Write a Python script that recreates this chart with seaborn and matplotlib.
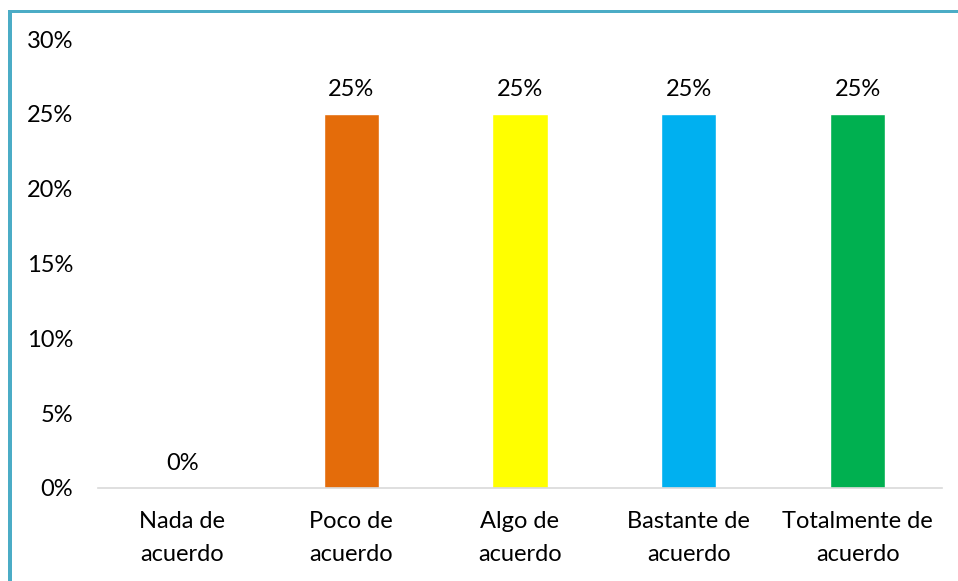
import matplotlib
matplotlib.use("Agg")
import matplotlib.pyplot as plt
import seaborn as sns
import pandas as pd
from matplotlib.patches import Rectangle

categories = ["Nada de\nacuerdo", "Poco de\nacuerdo", "Algo de\nacuerdo",
              "Bastante de\nacuerdo", "Totalmente de\nacuerdo"]
values = [0.0, 0.25, 0.25, 0.25, 0.25]
colors = ["#4F81BD", "#E46C0A", "#FFFF00", "#00B0F0", "#00B050"]
yticks = [0, 0.05, 0.10, 0.15, 0.20, 0.25, 0.30]
ytick_labels = ["0%", "5%", "10%", "15%", "20%", "25%", "30%"]

sns.set_theme(style="white")
plt.rcParams["font.family"] = ["Lato", "DejaVu Sans"]

fig = plt.figure(figsize=(9.58, 5.81), dpi=100)
ax = fig.add_axes([98/958, 1-488/581, (942-98)/958, (488-39)/581])

df = pd.DataFrame({"cat": categories, "val": values})
sns.barplot(data=df, x="cat", y="val", hue="cat", palette=colors,
            legend=False, width=0.326, ax=ax, saturation=1)

fs = 17
ax.set_ylim(0, 0.30)
ax.set_yticks(yticks)
ax.set_yticklabels(ytick_labels)
ax.set_xlabel("")
ax.set_ylabel("")
ax.tick_params(axis="y", length=0, pad=18, labelsize=fs, labelcolor="#000000")
ax.tick_params(axis="x", length=0, pad=16.5, labelsize=fs, labelcolor="#000000")
ax.set_xticks(range(len(categories)))
ax.set_xticklabels(categories, linespacing=1.7)
for s in ["top", "right", "left"]:
    ax.spines[s].set_visible(False)
ax.spines["bottom"].set_color("#D9D9D9")
ax.spines["bottom"].set_linewidth(1.2)
ax.grid(False)

for i, v in enumerate(values):
    ax.annotate(f"{v*100:.0f}%", (i, v), xytext=(0, 10), textcoords="offset points",
                ha="center", va="bottom", fontsize=fs, color="#000000")

# decorative frame (left and top teal lines)
teal = "#4BACC6"
fig.add_artist(Rectangle((8/958, 0), 4/958, 1-10/581, transform=fig.transFigure,
                         color=teal, lw=0))
fig.add_artist(Rectangle((8/958, 1-13/581), 1, 3/581, transform=fig.transFigure,
                         color=teal, lw=0))

fig.savefig("out.png", dpi=100, facecolor="white")
